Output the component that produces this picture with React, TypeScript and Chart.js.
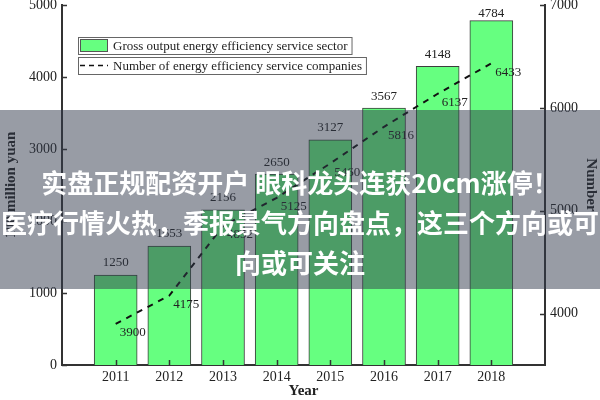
import React, { useEffect, useRef } from 'react';
import { Chart, registerables } from 'chart.js';

Chart.register(...registerables);

// ---- data ----
const years = ['2011', '2012', '2013', '2014', '2015', '2016', '2017', '2018'];
const grossOutput = [1250, 1653, 2156, 2650, 3127, 3567, 4148, 4784];
const companies = [3900, 4175, 4852, 5125, 5460, 5816, 6137, 6433];
const leftTicks = [0, 1000, 2000, 3000, 4000, 5000];
const rightTicks = [4000, 5000, 6000, 7000];
const barSeriesName = 'Gross output energy efficiency service sector';
const lineSeriesName = 'Number of energy efficiency service companies';
const xTitle = 'Year';
const leftTitle = '100 million yuan';
const rightTitle = 'Number';
const overlayLines = [
  '实盘正规配资开户 眼科龙头连获20cm涨停！',
  '医疗行情火热，季报景气方向盘点，这三个方向或可',
  '向或可关注',
];

const SERIF = '"Liberation Serif", "Times New Roman", serif';
const BAR_FILL = '#66FF80';
const BAR_BORDER = '#3c3c3c';
const AXIS = '#333333';
const TEXT = '#222222';

const labels = ['', ...years, ''];
const barData = [null, ...grossOutput, null];
const lineData = [null, ...companies, null];

const customPlugin = {
  id: 'custom',
  afterDatasetsDraw(chart: any) {
    const ctx = chart.ctx;
    const area = chart.chartArea;
    const x = chart.scales.x;
    const y = chart.scales.y;
    const y1 = chart.scales.y1;
    ctx.save();
    // inward tick marks
    ctx.strokeStyle = AXIS;
    ctx.lineWidth = 1.5;
    ctx.beginPath();
    years.forEach((_, i) => {
      const px = Math.round(x.getPixelForValue(i + 1)) + 0.5;
      ctx.moveTo(px, area.bottom);
      ctx.lineTo(px, area.bottom - 5);
    });
    leftTicks.forEach((v) => {
      const py = Math.round(y.getPixelForValue(v)) + 0.5;
      ctx.moveTo(area.left, py);
      ctx.lineTo(area.left + 5, py);
    });
    rightTicks.forEach((v) => {
      const py = Math.round(y1.getPixelForValue(v)) + 0.5;
      ctx.moveTo(area.right, py);
      ctx.lineTo(area.right - 5, py);
    });
    ctx.stroke();

    // value labels
    ctx.fillStyle = TEXT;
    ctx.font = '13px ' + SERIF;
    ctx.textAlign = 'center';
    ctx.textBaseline = 'middle';
    grossOutput.forEach((v, i) => {
      const px = x.getPixelForValue(i + 1);
      const py = Math.max(y.getPixelForValue(v) - 12, 14);
      ctx.fillText(String(v), px, py);
    });
    companies.forEach((v, i) => {
      const px = x.getPixelForValue(i + 1);
      const py = y1.getPixelForValue(v);
      ctx.fillText(String(v), px + 17, py + 9);
    });

    // legend
    ctx.font = '13px ' + SERIF;
    ctx.textAlign = 'left';
    const rows = [
      { top: 37, text: barSeriesName, kind: 'bar' },
      { top: 57, text: lineSeriesName, kind: 'line' },
    ];
    rows.forEach((r) => {
      const h = 17;
      const w = 2 + 28 + 5 + ctx.measureText(r.text).width + 4;
      ctx.strokeStyle = '#666';
      ctx.lineWidth = 1;
      ctx.setLineDash([]);
      ctx.fillStyle = '#ffffff';
      ctx.fillRect(78, r.top, w, h);
      ctx.strokeRect(78.5, r.top + 0.5, w, h);
      if (r.kind === 'bar') {
        ctx.fillStyle = BAR_FILL;
        ctx.fillRect(80, r.top + 2, 28, h - 4);
        ctx.strokeStyle = '#555';
        ctx.strokeRect(80.5, r.top + 2.5, 27, h - 5);
      } else {
        ctx.strokeStyle = '#111';
        ctx.lineWidth = 1.5;
        ctx.setLineDash([5, 4]);
        ctx.beginPath();
        ctx.moveTo(80, r.top + h / 2);
        ctx.lineTo(108, r.top + h / 2);
        ctx.stroke();
        ctx.setLineDash([]);
      }
      ctx.fillStyle = TEXT;
      ctx.fillText(r.text, 113, r.top + h / 2 + 1);
    });
    ctx.restore();
  },
};

function fixWidth(w: number) {
  return (s: any) => {
    s.width = w;
    s.paddingTop = 0;
    s.paddingBottom = 0;
  };
}

const plainNumber = (v: any) => String(v);

export default function App() {
  const ref = useRef<HTMLCanvasElement | null>(null);
  useEffect(() => {
    if (!ref.current) return;
    const chart = new Chart(ref.current, {
      type: 'bar',
      data: {
        labels,
        datasets: [
          {
            type: 'bar',
            label: barSeriesName,
            data: barData as any,
            backgroundColor: BAR_FILL,
            borderColor: BAR_BORDER,
            borderWidth: 1,
            barThickness: 43,
            yAxisID: 'y',
            order: 2,
          },
          {
            type: 'line',
            label: lineSeriesName,
            data: lineData as any,
            borderColor: '#111',
            borderWidth: 2,
            borderDash: [6, 6],
            pointRadius: 0,
            fill: false,
            yAxisID: 'y1',
            order: 1,
          } as any,
        ],
      },
      options: {
        animation: false,
        responsive: false,
        maintainAspectRatio: false,
        layout: { padding: { top: 5, left: 0, right: 0, bottom: 0 } },
        plugins: { legend: { display: false }, tooltip: { enabled: false } },
        scales: {
          x: {
            type: 'category',
            offset: false,
            grid: { display: false, drawTicks: false },
            border: { display: true, color: AXIS, width: 2 },
            ticks: {
              autoSkip: false,
              maxRotation: 0,
              padding: 4,
              color: TEXT,
              font: { family: SERIF, size: 14 },
            },
            title: {
              display: true,
              text: xTitle,
              color: TEXT,
              font: { family: SERIF, size: 15, weight: 'bold' },
              padding: 0,
            },
            afterFit: (s: any) => {
              s.height = 35;
              s.paddingLeft = 0;
              s.paddingRight = 0;
            },
          },
          y: {
            type: 'linear',
            position: 'left',
            min: 0,
            max: 5000,
            grid: { display: false, drawTicks: false },
            border: { display: true, color: AXIS, width: 2 },
            ticks: { padding: 5, color: TEXT, font: { family: SERIF, size: 14 }, callback: plainNumber },
            afterBuildTicks: (s: any) => {
              s.ticks = leftTicks.map((v) => ({ value: v }));
            },
            title: {
              display: true,
              text: leftTitle,
              color: TEXT,
              font: { family: SERIF, size: 15, weight: 'bold' },
              padding: 2,
            },
            afterFit: fixWidth(62),
          },
          y1: {
            type: 'linear',
            position: 'right',
            min: 3500,
            max: 7000,
            grid: { display: false, drawTicks: false },
            border: { display: true, color: AXIS, width: 2 },
            ticks: { padding: 5, color: TEXT, font: { family: SERIF, size: 14 }, callback: plainNumber },
            afterBuildTicks: (s: any) => {
              s.ticks = rightTicks.map((v) => ({ value: v }));
            },
            title: {
              display: true,
              text: rightTitle,
              color: TEXT,
              font: { family: SERIF, size: 15, weight: 'bold' },
              padding: 0,
            },
            afterFit: fixWidth(55),
          },
        },
      } as any,
      plugins: [customPlugin],
    });
    return () => chart.destroy();
  }, []);

  return (
    <div style={{ position: 'fixed', left: 0, top: 0, width: 600, height: 400, background: '#fff', overflow: 'hidden' }}>
      <canvas ref={ref} width={600} height={400} style={{ display: 'block', width: 600, height: 400 }} />
      <div
        style={{
          position: 'absolute',
          left: 0,
          top: 110,
          width: 600,
          height: 179,
          background: 'rgba(50, 58, 75, 0.5)',
          color: '#ffffff',
          fontFamily: '"Noto Sans CJK SC", sans-serif',
          fontWeight: 'bold',
          fontSize: 26,
          lineHeight: '40px',
          textAlign: 'center',
          paddingTop: 52,
          boxSizing: 'border-box',
          overflow: 'hidden',
        }}
      >
        {overlayLines.map((t, i) => (
          <div key={i} style={{ whiteSpace: 'nowrap', overflow: 'hidden', textOverflow: 'clip' }}>{t}</div>
        ))}
      </div>
    </div>
  );
}
